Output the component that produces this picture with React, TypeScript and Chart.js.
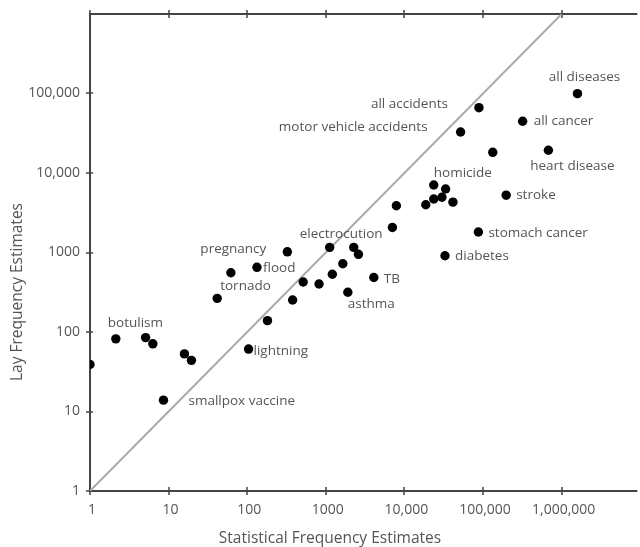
import React, { useEffect, useRef } from "react";
import { Chart, registerables } from "chart.js";

Chart.register(...registerables);

// Statistical (x) vs lay (y) frequency estimates of causes of death
const statValues = [
  1, 2.13, 5.1, 6.3, 15.9, 19.5, 8.6, 104, 181, 41.5,
  62, 133, 324, 378, 515, 820, 1120, 1210, 1645, 1905,
  2265, 2600, 4080, 7030, 7900, 18700, 23600, 23600, 30000, 33400,
  41400, 32800, 87300, 197000, 51800, 88700, 133000, 319000, 678000, 1590000,
];
const layValues = [
  39, 82, 85, 71, 53, 44, 13.9, 61, 139, 265,
  557, 651, 1020, 253, 425, 402, 1160, 532, 723, 316,
  1160, 949, 485, 2060, 3870, 3990, 7060, 4710, 4950, 6300,
  4300, 909, 1810, 5260, 32800, 66300, 18200, 44700, 19300, 99500,
];
const pointNames = [
  "", "botulism", "", "", "", "", "smallpox vaccine", "lightning", "", "tornado",
  "", "flood", "pregnancy", "", "", "", "electrocution", "", "", "asthma",
  "", "", "TB", "", "", "", "homicide", "", "", "",
  "", "diabetes", "stomach cancer", "stroke", "motor vehicle accidents", "all accidents", "", "all cancer", "heart disease", "all diseases",
];
const xTickValues = [1, 10, 100, 1000, 10000, 100000, 1000000];
const xTickLabels = ["1", "10", "100", "1000", "10,000", "100,000", "1,000,000"];
const yTickValues = [1, 10, 100, 1000, 10000, 100000];
const yTickLabels = ["1", "10", "100", "1000", "10,000", "100,000"];
const diagonal = [1, 1000000];

// label placement (pixel offsets from the dot, text alignment)
const labelPlacement: Record<string, { dx: number; dy: number; align: CanvasTextAlign }> = {
  "botulism": { dx: -8, dy: -16, align: "left" },
  "smallpox vaccine": { dx: 25, dy: 1, align: "left" },
  "lightning": { dx: 5, dy: 2, align: "left" },
  "tornado": { dx: 3, dy: -12, align: "left" },
  "flood": { dx: 6, dy: 1, align: "left" },
  "pregnancy": { dx: -21, dy: -3, align: "right" },
  "electrocution": { dx: -30, dy: -13, align: "left" },
  "asthma": { dx: 0, dy: 12, align: "left" },
  "TB": { dx: 10, dy: 2, align: "left" },
  "homicide": { dx: 0, dy: -12, align: "left" },
  "diabetes": { dx: 10, dy: 0, align: "left" },
  "stomach cancer": { dx: 10, dy: 1, align: "left" },
  "stroke": { dx: 10, dy: 0, align: "left" },
  "motor vehicle accidents": { dx: -33, dy: -5, align: "right" },
  "all accidents": { dx: -31, dy: -4, align: "right" },
  "all cancer": { dx: 11, dy: 0, align: "left" },
  "heart disease": { dx: 24, dy: 16, align: "center" },
  "all diseases": { dx: 7, dy: -17, align: "center" },
};

const FONT = "'Open Sans', Lato, sans-serif";
const TEXT = "#555";

const framePlugin = {
  id: "frame",
  beforeDatasetsDraw(chart: any) {
    const { ctx, chartArea: a, scales } = chart;
    ctx.save();
    ctx.strokeStyle = "#444";
    ctx.lineWidth = 2;
    ctx.beginPath();
    ctx.moveTo(a.left, a.top);
    ctx.lineTo(a.right + 2, a.top);
    ctx.moveTo(a.left, a.top - 1);
    ctx.lineTo(a.left, a.bottom);
    ctx.lineTo(a.right + 2, a.bottom);
    ctx.stroke();
    ctx.lineWidth = 1.5;
    ctx.beginPath();
    xTickValues.forEach((v) => {
      const px = Math.round(scales.x.getPixelForValue(v));
      ctx.moveTo(px, a.top - 4);
      ctx.lineTo(px, a.top + 4);
      ctx.moveTo(px, a.bottom - 4);
      ctx.lineTo(px, a.bottom + 4);
    });
    yTickValues.forEach((v) => {
      const py = Math.round(scales.y.getPixelForValue(v));
      ctx.moveTo(a.left - 4, py);
      ctx.lineTo(a.left + 3, py);
    });
    ctx.stroke();
    ctx.restore();
  },
  afterDraw(chart: any) {
    const { ctx, scales } = chart;
    ctx.save();
    ctx.fillStyle = TEXT;
    ctx.font = `13.5px ${FONT}`;
    ctx.textBaseline = "middle";
    statValues.forEach((xv, i) => {
      const name = pointNames[i];
      if (!name) return;
      const p = labelPlacement[name] || { dx: 8, dy: 0, align: "left" };
      const px = scales.x.getPixelForValue(xv);
      const py = scales.y.getPixelForValue(layValues[i]);
      ctx.textAlign = p.align;
      ctx.fillText(name, px + p.dx, py + p.dy);
    });
    ctx.font = `15.5px ${FONT}`;
    ctx.textAlign = "center";
    ctx.fillText("Statistical Frequency Estimates", 322, 531);
    ctx.translate(10, 284);
    ctx.rotate(-Math.PI / 2);
    ctx.fillText("Lay Frequency Estimates", 0, 0);
    ctx.restore();
  },
};

export default function App() {
  const ref = useRef<HTMLCanvasElement>(null);
  useEffect(() => {
    if (!ref.current) return;
    const chart = new Chart(ref.current, {
      type: "scatter",
      data: {
        datasets: [
          {
            type: "scatter",
            data: statValues.map((x, i) => ({ x, y: layValues[i] })),
            backgroundColor: "#000",
            borderColor: "#000",
            pointRadius: 4.7,
            pointBorderWidth: 0,
            order: 1,
          },
          {
            type: "line",
            data: diagonal.map((v) => ({ x: v, y: v })),
            borderColor: "#aaa",
            borderWidth: 2,
            pointRadius: 0,
            order: 2,
          } as any,
        ],
      },
      options: {
        responsive: false,
        animation: false,
        layout: { padding: { top: 6, left: 0, right: 0, bottom: 0 } },
        plugins: { legend: { display: false }, tooltip: { enabled: false } },
        scales: {
          x: {
            type: "logarithmic",
            min: 1,
            max: 8.65e6,
            grid: { display: false, drawTicks: false },
            border: { display: false },
            afterBuildTicks: (s: any) => {
              s.ticks = xTickValues.map((value) => ({ value }));
            },
            afterFit: (s: any) => {
              s.height = 56;
              s.paddingLeft = 0;
              s.paddingRight = 0;
            },
            ticks: {
              autoSkip: false,
              maxRotation: 0,
              padding: 11,
              labelOffset: 2,
              color: TEXT,
              font: { family: FONT, size: 14 },
              callback: (v: any) => {
                const i = xTickValues.indexOf(Number(v));
                return i >= 0 ? xTickLabels[i] : "";
              },
            },
          },
          y: {
            type: "logarithmic",
            min: 1,
            max: 1e6,
            grid: { display: false, drawTicks: false },
            border: { display: false },
            afterBuildTicks: (s: any) => {
              s.ticks = yTickValues.map((value) => ({ value }));
            },
            afterFit: (s: any) => {
              s.width = 82;
              s.paddingTop = 0;
              s.paddingBottom = 0;
            },
            ticks: {
              autoSkip: false,
              padding: 10,
              color: TEXT,
              font: { family: FONT, size: 14 },
              callback: (v: any) => {
                const i = yTickValues.indexOf(Number(v));
                return i >= 0 ? yTickLabels[i] : "";
              },
            },
          },
        },
      },
      plugins: [framePlugin],
    });
    return () => chart.destroy();
  }, []);
  return (
    <div style={{ position: "absolute", left: 8, top: 8, width: 632, height: 539, overflow: "hidden" }}>
      <canvas ref={ref} width={632} height={539} style={{ display: "block" }} />
    </div>
  );
}
